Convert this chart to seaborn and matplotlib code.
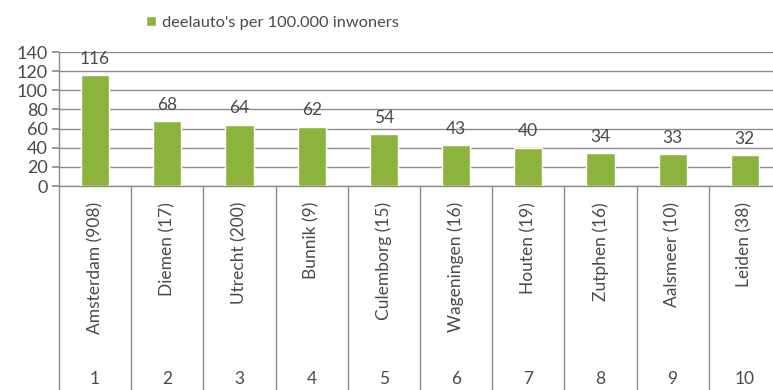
import pandas as pd
import matplotlib.pyplot as plt
import seaborn as sns

# data
gemeenten = ["Amsterdam (908)", "Diemen (17)", "Utrecht (200)", "Bunnik (9)", "Culemborg (15)",
             "Wageningen (16)", "Houten (19)", "Zutphen (16)", "Aalsmeer (10)", "Leiden (38)"]
ranks = ["1", "2", "3", "4", "5", "6", "7", "8", "9", "10"]
per_100k = [116, 68, 64, 62, 54, 43, 40, 34, 33, 32]

df = pd.DataFrame({"gemeente": gemeenten, "rang": ranks, "waarde": per_100k})

sns.set_theme(style="white")
plt.rcParams['font.family'] = ['Lato', 'DejaVu Sans']
text_col = '#4a4a4a'
grid_col = '#8c8c8c'
bar_col = '#8db33f'

fig = plt.figure(figsize=(7.73, 3.90), dpi=100)
ax = fig.add_axes([0.0763, 0.523, 0.934, 0.3436])

sns.barplot(data=df, x="gemeente", y="waarde", color=bar_col, width=0.39,
            saturation=1, label="deelauto's per 100.000 inwoners", ax=ax, zorder=3)

ax.set_ylim(0, 140)
ax.set_yticks(range(0, 141, 20))
ax.yaxis.grid(True, color=grid_col, linewidth=1.0, zorder=0)
ax.set_xlim(-0.5, len(gemeenten) - 0.5)
for s in ['top', 'right']:
    ax.spines[s].set_visible(False)
for s in ['left', 'bottom']:
    ax.spines[s].set_color(grid_col)
    ax.spines[s].set_linewidth(1.0)
ax.tick_params(axis='y', left=True, length=5, color=grid_col, labelsize=13, labelcolor=text_col, pad=3)
ax.tick_params(axis='x', bottom=False, labelbottom=False)
ax.set_xlabel("")
ax.set_ylabel("")

# value labels
ax.bar_label(ax.containers[0], padding=6, fontsize=12.5, color=text_col)

# multi-level category axis: separators, names and ranks
trans = ax.get_xaxis_transform()
for i in range(len(gemeenten) + 1):
    ax.plot([i - 0.5, i - 0.5], [0, -1.6], transform=trans, color=grid_col,
            linewidth=1.0, clip_on=False)
for i, (g, r) in enumerate(zip(gemeenten, ranks)):
    ax.text(i, -0.12, g, transform=trans, rotation=90, ha='center', va='top',
            fontsize=12.5, color=text_col)
    ax.text(i, -1.44, r, transform=trans, ha='center', va='center',
            fontsize=12.5, color=text_col)

ax.legend(loc='center left', bbox_to_anchor=(0.1, 1.22), frameon=False,
          handlelength=0.6, handleheight=0.6, handletextpad=0.4,
          fontsize=11.8, labelcolor=text_col)

fig.savefig("out.png", dpi=100)
